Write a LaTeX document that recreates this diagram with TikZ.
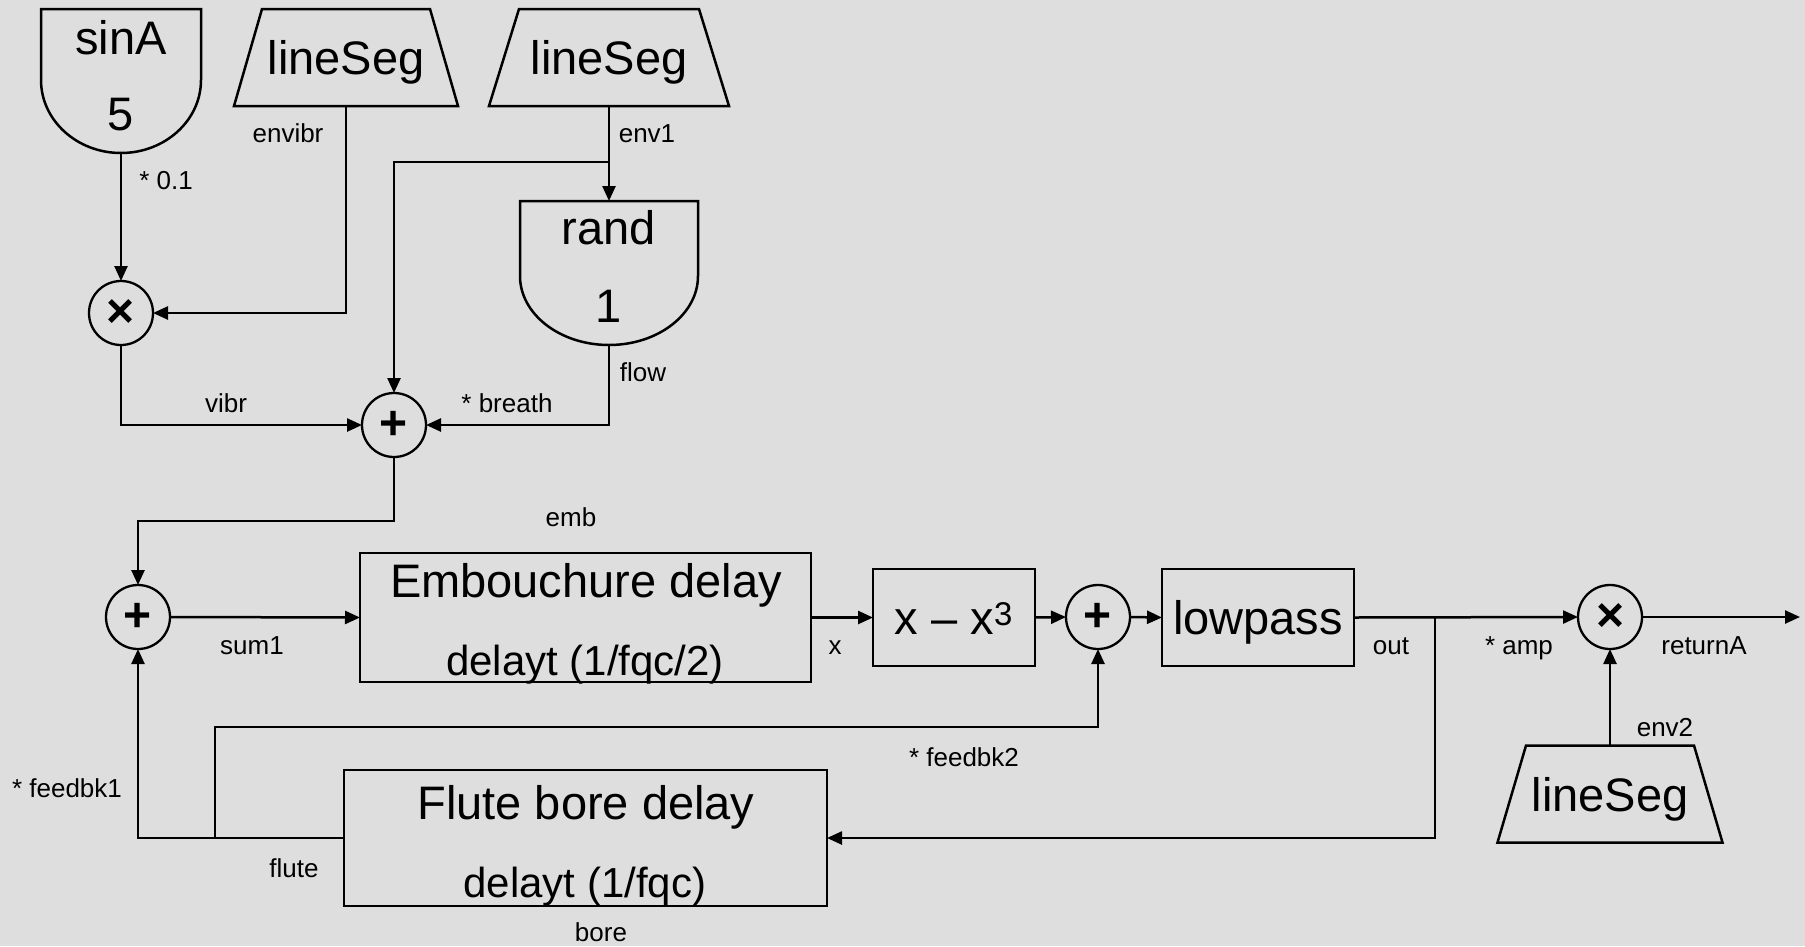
\documentclass[tikz,border=0pt]{standalone}
\usepackage{fontspec}
\setmainfont{Liberation Sans}
\usetikzlibrary{arrows.meta,calc}

\definecolor{bgcol}{RGB}{222,222,222}

% generator block with a rounded bottom: name, left, right, top, bottom, arc depth
\newcommand\dblock[6]{%
  \draw[outline] (#2,#4) -- (#2,#5-#6)
    .. controls (#2,#5-0.448*#6) and ({(#2+#3)/2-0.552*(#3-#2)/2},#5) .. ({(#2+#3)/2},#5)
    .. controls ({(#2+#3)/2+0.552*(#3-#2)/2},#5) and (#3,#5-0.448*#6) .. (#3,#5-#6)
    -- (#3,#4) -- cycle;
  \node[anchorbox, minimum width={#3-#2}, minimum height={#5-#4}] (#1) at ({(#2+#3)/2},{(#4+#5)/2}) {};
}
% envelope block (trapezium): name, centre x, centre y, top half width, bottom half width
\newcommand\segblock[5]{%
  \draw[outline] (#2-#4,#3-48.5) -- (#2+#4,#3-48.5) -- (#2+#5,#3+48.5) -- (#2-#5,#3+48.5) -- cycle;
  \node[anchorbox, big, minimum width={2*#5}, minimum height=97] (#1) at (#2,#3) {lineSeg};
}

\tikzset{
  outline/.style={line width=2.5pt, line join=miter},
  anchorbox/.style={rectangle, draw=none, inner sep=0pt, outer sep=0pt},
  big/.style={font=\fontsize{47}{56}\selectfont, inner sep=0pt, text height=34pt, text depth=0pt},
  sub/.style={font=\fontsize{42}{50}\selectfont, inner sep=0pt, text height=30pt, text depth=0pt},
  lbl/.style={font=\fontsize{26}{30}\selectfont, inner sep=0pt, text height=19pt, text depth=0pt},
  block/.style={rectangle, draw, line width=2.5pt, inner sep=0pt, outer sep=0pt},
  op/.style={circle, draw, line width=2.3pt, minimum size=64pt, inner sep=0pt, outer sep=0pt,
    font=\fontsize{48}{54}\selectfont\bfseries},
  wire/.style={line width=2.5pt},
  arr/.style={wire, -{Triangle[length=15pt,width=13pt]}},
}

\begin{document}
\begin{tikzpicture}[x=1pt,y=-1pt]
\fill[bgcol] (0,0) rectangle (1805,946);
\useasboundingbox (0,0) rectangle (1805,946);

% sources
\dblock{sinA}{41}{201}{9}{153}{73}
\node[big] (sinAname) at (121,37) {sinA};
\node[big] (sinAfreq) at (121,113) {5};
\segblock{envibr}{346}{57.5}{84}{112}
\segblock{envone}{609}{57.5}{90}{120}
\dblock{rand}{520}{698}{201}{345}{69}
\node[big] (randname) at (609,227) {rand};
\node[big] (randarg) at (609,305) {1};
\segblock{envtwo}{1610}{794}{84}{112.5}

% operators
\node[op] (mulv) at (121,313) {×};
\node[op] (addb) at (394,425) {+};
\node[op] (sum) at (138,617) {+};
\node[op] (addf) at (1098,617) {+};
\node[op] (mulo) at (1610,617) {×};

% processing blocks
\node[block, minimum width=451pt, minimum height=129pt] (emb) at (585.5,617.5) {};
\node[big] (embname) at (586,580) {Embouchure delay};
\node[sub] (embarg) at (585,660) {delayt (1/fqc/2)};
\node[block, big, minimum width=162pt, minimum height=97pt] (cubic) at (954,617.5) {x – x\textsuperscript{3}};
\node[block, big, minimum width=192pt, minimum height=97pt] (lp) at (1258,617.5) {lowpass};
\node[block, minimum width=483pt, minimum height=136pt] (bore) at (585.5,838) {};
\node[big] (borename) at (586,802) {Flute bore delay};
\node[sub] (borearg) at (585,882) {delayt (1/fqc)};

% branch points and wire corners
\coordinate (tapenv) at (609,162);
\coordinate (embrow) at (0,521);
\coordinate (fbrow) at (0,727);
\coordinate (tapflute) at (215,838);
\coordinate (tapout) at (1435,617);
\coordinate (result) at (1800,617);

% connections
\draw[arr] (sinA.south) -- (mulv.north);
\draw[arr] (envibr.south) |- (mulv.east);
\draw[arr] (envone.south) -- (rand.north);
\draw[arr] (tapenv) -| (addb.north);
\draw[arr] (rand.south) |- (addb.east);
\draw[arr] (mulv.south) |- (addb.west);
\draw[arr] (addb.south) |- (sum.north |- embrow) -- (sum.north);
\draw[arr] (sum.east) -- (emb.west);
\draw[arr] (emb.east) -- (cubic.west);
\draw[arr] (cubic.east) -- (addf.west);
\draw[arr] (addf.east) -- (lp.west);
\draw[arr] (lp.east) -- (mulo.west);
\draw[arr] (mulo.east) -- (result);
\draw[arr] (envtwo.north) -- (mulo.south);
\draw[arr] (tapout) |- (bore.east);
\draw[arr] (bore.west) -| (sum.south);
\draw[arr] (tapflute) -- (tapflute |- fbrow) -| (addf.south);

% signal names
\node[lbl] (l01) at (288,133) {envibr};
\node[lbl] (l02) at (166,180) {* 0.1};
\node[lbl] (l03) at (647,133) {env1};
\node[lbl] (l04) at (643,372) {flow};
\node[lbl] (l05) at (507,403) {* breath};
\node[lbl] (l06) at (226,403) {vibr};
\node[lbl] (l07) at (571,517) {emb};
\node[lbl] (l08) at (252,645) {sum1};
\node[lbl] (l09) at (835,645) {x};
\node[lbl] (l10) at (67,788) {* feedbk1};
\node[lbl] (l11) at (294,868) {flute};
\node[lbl] (l12) at (601,932) {bore};
\node[lbl] (l13) at (964,757) {* feedbk2};
\node[lbl] (l14) at (1391,645) {out};
\node[lbl] (l15) at (1519,645) {* amp};
\node[lbl] (l16) at (1704,645) {returnA};
\node[lbl] (l17) at (1665,727) {env2};
\end{tikzpicture}
\end{document}
